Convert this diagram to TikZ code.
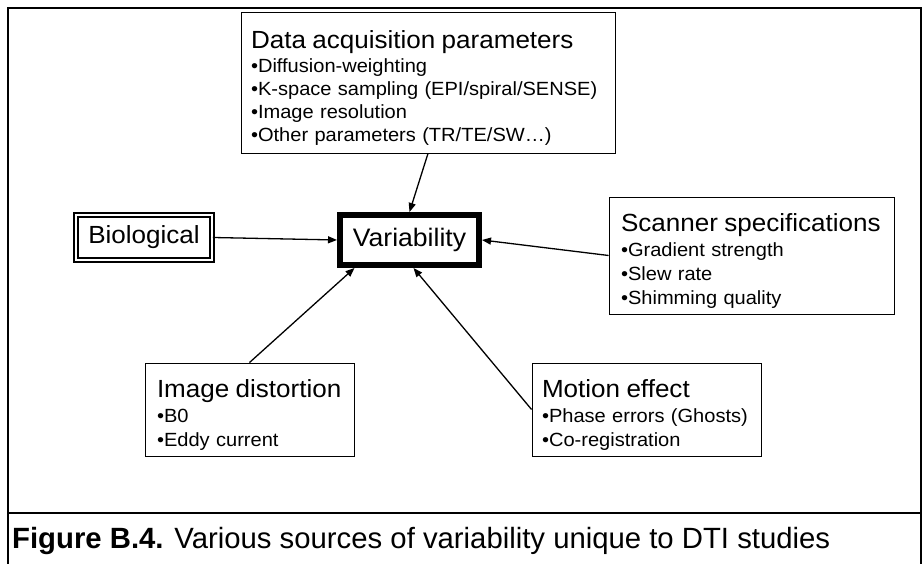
\documentclass[tikz,border=0pt]{standalone}
\usepackage{fontspec}
\setmainfont[FakeStretch=1.05]{Liberation Sans}
\newfontfamily\capfont{Liberation Sans}
\usetikzlibrary{arrows.meta}
\newcommand{\boxtitle}[1]{{\fontsize{24.8}{26}\selectfont\rule{0pt}{28pt}#1}}

\begin{document}
\begin{tikzpicture}[x=1pt, y=1pt, source/.style={draw, line width=0.9pt, align=left, inner xsep=11pt, inner ysep=0pt, font=\fontsize{19.1}{24}\selectfont}, hub/.style={draw, line width=6pt, minimum width=139pt, minimum height=50pt, inner sep=0pt, font=\fontsize{25.3}{28}\selectfont}, bio/.style={draw, double, double distance=2pt, line width=1.8pt, minimum width=136pt, minimum height=45pt, inner sep=0pt, font=\fontsize{24.8}{28}\selectfont}, arr/.style={-{Triangle[length=9pt, width=7pt]}, line width=1.3pt}]
      \useasboundingbox (0,0) rectangle (924,564);
      \draw[line width=2pt] (8,0) -- (8,556) -- (921,556) -- (921,0);
      \draw[line width=2pt] (8,51) -- (921,51);

      \node[hub] (0) at (409.5, 324) {Variability};
      \node[source, font=\fontsize{19.1}{23}\selectfont, text width=354pt, inner xsep=10pt, minimum height=141pt] (1) at (428, 481.5) {\boxtitle{Data acquisition parameters}\\[1pt] •Diffusion-weighting\\ •K-space sampling (EPI/spiral/SENSE)\\ •Image resolution\\ •Other parameters (TR/TE/SW…)};
      \node[bio] (2) at (144, 326.5) {Biological};
      \node[source, text width=261pt, inner xsep=12pt, minimum height=117pt] (3) at (751.5, 308.5) {\boxtitle{Scanner specifications}\\[1pt] •Gradient strength\\ •Slew rate\\ •Shimming quality};
      \node[source, text width=185pt, inner xsep=12pt, minimum height=93pt] (4) at (249.5, 154.5) {\boxtitle{Image distortion}\\[1pt] •B0\\ •Eddy current};
      \node[source, text width=209pt, inner xsep=10pt, minimum height=93pt] (5) at (646.5, 154.5) {\boxtitle{Motion effect}\\[1pt] •Phase errors (Ghosts)\\ •Co-registration};

      \draw[arr] (1.south) -- (0.north);
      \draw[arr] (2.east) -- (0.west);
      \draw[arr] (3.west) -- (0.east);
      \draw[arr] (4.north) -- ([xshift=-55pt]0.south);
      \draw[arr] (5.west) -- ([xshift=4pt]0.south);

      \node[anchor=base west, inner sep=0pt, font=\capfont\fontsize{29.3}{34}\selectfont] (6) at (12, 15) {\textbf{Figure B.4.} Various sources of variability unique to DTI studies};
    \end{tikzpicture}
\end{document}
